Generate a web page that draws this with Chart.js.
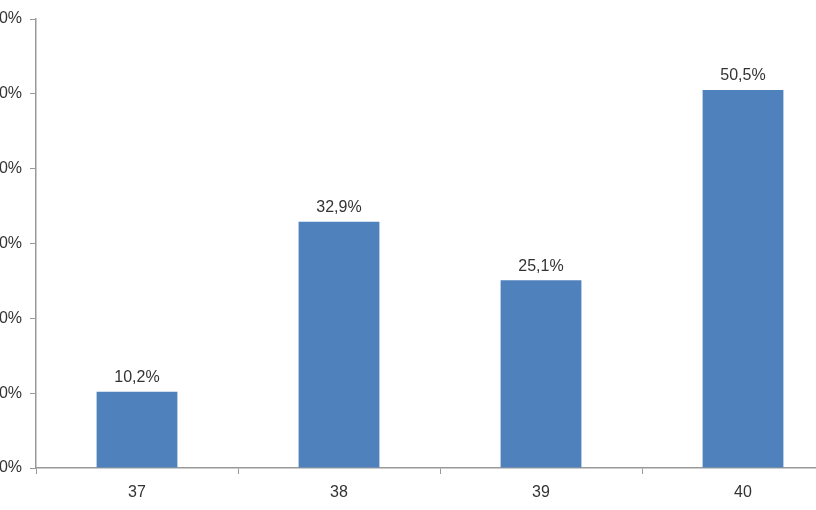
<!DOCTYPE html>
<html>
<head>
<meta charset="utf-8">
<script src="https://cdn.jsdelivr.net/npm/chart.js@4"></script>
<style>
  html, body { margin: 0; padding: 0; overflow: hidden; background: #fff; }
  #wrap { position: absolute; left: -40px; top: 0; width: 900px; height: 510px; }
</style>
</head>
<body>
<div id="wrap"><canvas id="myChart"></canvas></div>
<script>
var categories = ['37', '38', '39', '40'];
var values = [10.2, 32.9, 25.1, 50.5];
var yTicks = [0, 10, 20, 30, 40, 50, 60];

function pct(v) {
    return v.toFixed(1).replace('.', ',') + '%';
}

var barLabels = {
    id: 'barLabels',
    afterDatasetsDraw: function (chart) {
        var c = chart.ctx;
        var meta = chart.getDatasetMeta(0);
        c.save();
        c.font = '16px "Liberation Sans", Arial, sans-serif';
        c.fillStyle = '#333';
        c.textAlign = 'center';
        c.textBaseline = 'bottom';
        meta.data.forEach(function (bar, i) {
            c.fillText(pct(values[i]), bar.x, bar.y - 6);
        });
        c.restore();
    }
};

var ctx = document.getElementById('myChart');

var myChart = new Chart(ctx, {
    type: 'bar',
    data: {
        labels: categories,
        datasets: [
            {
                data: values,
                backgroundColor: '#4F81BD',
                barPercentage: 0.4,
                categoryPercentage: 1
            }
        ]
    },
    plugins: [barLabels],
    options: {
        responsive: true,
        maintainAspectRatio: false,
        animation: false,
        layout: { padding: { top: 19, right: 16, bottom: 0, left: 0 } },
        plugins: {
            legend: { display: false },
            tooltip: { enabled: false }
        },
        scales: {
            x: {
                offset: true,
                grid: {
                    offset: true,
                    drawOnChartArea: false,
                    drawTicks: true,
                    tickLength: 6,
                    color: '#999'
                },
                border: { color: '#999', width: 1.5 },
                ticks: {
                    color: '#333',
                    padding: 9,
                    font: { family: '"Liberation Sans", Arial, sans-serif', size: 16 }
                },
                afterFit: function (s) { s.height = 42; }
            },
            y: {
                min: 0,
                max: 60,
                afterBuildTicks: function (s) {
                    s.ticks = yTicks.map(function (v) { return { value: v }; });
                },
                grid: {
                    drawOnChartArea: false,
                    drawTicks: true,
                    tickLength: 6,
                    color: '#999'
                },
                border: { color: '#999', width: 1.5 },
                ticks: {
                    color: '#333',
                    padding: 8,
                    font: { family: '"Liberation Sans", Arial, sans-serif', size: 16 },
                    callback: function (v) { return v + '%'; }
                },
                afterFit: function (s) { s.width = 76; }
            }
        }
    }
});
</script>
</body>
</html>
